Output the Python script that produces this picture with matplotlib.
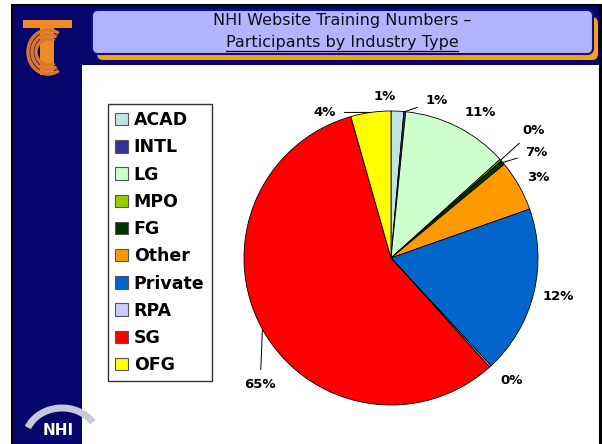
import matplotlib
matplotlib.use("Agg")
import matplotlib.pyplot as plt
import numpy as np
from matplotlib.patches import FancyBboxPatch, Rectangle, Arc, Patch

categories = ["ACAD", "INTL", "LG", "MPO", "FG", "Other", "Private", "RPA", "SG", "OFG"]
shares = [1.4, 0.2, 11.7, 0.2, 0.5, 5.6, 18.5, 0.2, 57.3, 4.4]
pct_labels = ["1%", "1%", "11%", "0%", "7%", "3%", "12%", "0%", "65%", "4%"]
colors = ["#C0E4E4", "#333399", "#CCFFCC", "#99CC00", "#003300",
          "#FF9900", "#0066CC", "#CCCCFF", "#FF0000", "#FFFF00"]

# label text positions (pie data units) and whether a leader line is drawn
label_pos = [(-0.04, 1.10), (0.31, 1.07), (0.61, 0.99), (0.97, 0.87), (0.99, 0.72),
             (1.0, 0.55), (1.14, -0.26), (0.82, -0.83), (-0.89, -0.86), (-0.45, 0.99)]
leaders = [False, True, False, True, True, False, False, False, True, True]

W, H = 602, 444
fig = plt.figure(figsize=(W / 100, H / 100), dpi=100)
fig.patch.set_facecolor("white")

# slide background drawn in pixel coordinates
bg = fig.add_axes([0, 0, 1, 1])
bg.set_xlim(0, W)
bg.set_ylim(H, 0)
bg.axis("off")
navy = "#05056B"
bg.add_patch(Rectangle((12, 5), 589, 440, facecolor=navy, edgecolor="black", lw=1.5))
bg.add_patch(Rectangle((82, 65), 517, 380, facecolor="white", edgecolor="none"))
bg.plot([600, 600], [5, 444], color="black", lw=1.5)

# title box with orange shadow
bg.add_patch(FancyBboxPatch((97, 17), 501, 43, boxstyle="round,pad=0,rounding_size=6",
                            facecolor="#F7A21B", edgecolor="none"))
bg.add_patch(FancyBboxPatch((92, 10), 501, 44, boxstyle="round,pad=0,rounding_size=6",
                            facecolor="#B3B3FF", edgecolor="#141470", lw=1.5))
bg.text(342, 21, "NHI Website Training Numbers \u2013", ha="center", va="center",
        fontsize=11.5, family="DejaVu Sans", color="#111111")
t2 = bg.text(342, 43, "Participants by Industry Type", ha="center", va="center",
             fontsize=11.5, family="DejaVu Sans", color="#111111")
fig.canvas.draw()
bb = t2.get_window_extent().transformed(bg.transData.inverted())
bg.plot([bb.x0, bb.x1], [51, 51], color="black", lw=0.9)

# logo top-left: orange T with rings
orange = "#F08A24"
bg.add_patch(Rectangle((23, 20), 49, 8, facecolor=orange, edgecolor="none"))
bg.add_patch(Rectangle((40, 28), 14, 47, facecolor=orange, edgecolor="none"))
for r in [12, 16, 20]:
    bg.add_patch(Arc((48, 52), 2 * r, 2 * r * 1.1, theta1=60, theta2=300,
                     color="#D8782A", lw=2.5))

# NHI logo bottom-left
bg.add_patch(Arc((62, 440), 74, 64, theta1=200, theta2=330, color="#C8C8D8", lw=5))
bg.text(58, 430, "NHI", ha="center", va="center", color="white",
        fontsize=11, fontweight="bold", family="DejaVu Sans")

# pie chart
cx, cy, R = 391, 258, 147
ax = fig.add_axes([(cx - R) / W, (H - cy - R) / H, 2 * R / W, 2 * R / H])
wedges, _ = ax.pie(shares, colors=colors, startangle=90, counterclock=False,
                   wedgeprops=dict(edgecolor="black", linewidth=0.6))
ax.set_xlim(-1, 1)
ax.set_ylim(-1, 1)
ax.set_aspect("equal")
ax.axis("off")

lab_font = dict(fontsize=9.5, fontweight="bold", family="DejaVu Sans")
for w, lab, (lx, ly), lead in zip(wedges, pct_labels, label_pos, leaders):
    mid = np.deg2rad((w.theta1 + w.theta2) / 2)
    ex, ey = np.cos(mid), np.sin(mid)
    if lead:
        ax.annotate(lab, xy=(ex, ey), xytext=(lx, ly), ha="center", va="center",
                    annotation_clip=False,
                    arrowprops=dict(arrowstyle="-", color="black", lw=0.7,
                                    shrinkA=4, shrinkB=0), **lab_font)
    else:
        ax.text(lx, ly, lab, ha="center", va="center", clip_on=False, **lab_font)

# legend
handles = [Patch(facecolor=c, edgecolor="#555555", lw=0.8) for c in colors]
leg = fig.legend(handles, categories, loc="upper left",
                 bbox_to_anchor=(108 / W, 1 - 104 / H), frameon=True,
                 fancybox=False, edgecolor="black", handlelength=0.72,
                 handleheight=0.72, handletextpad=0.35, labelspacing=0.53,
                 borderpad=0.42, borderaxespad=0,
                 prop=dict(family="DejaVu Sans", weight="bold", size=12.5))
leg.get_frame().set_linewidth(1.0)

fig.savefig("out.png", dpi=100)
